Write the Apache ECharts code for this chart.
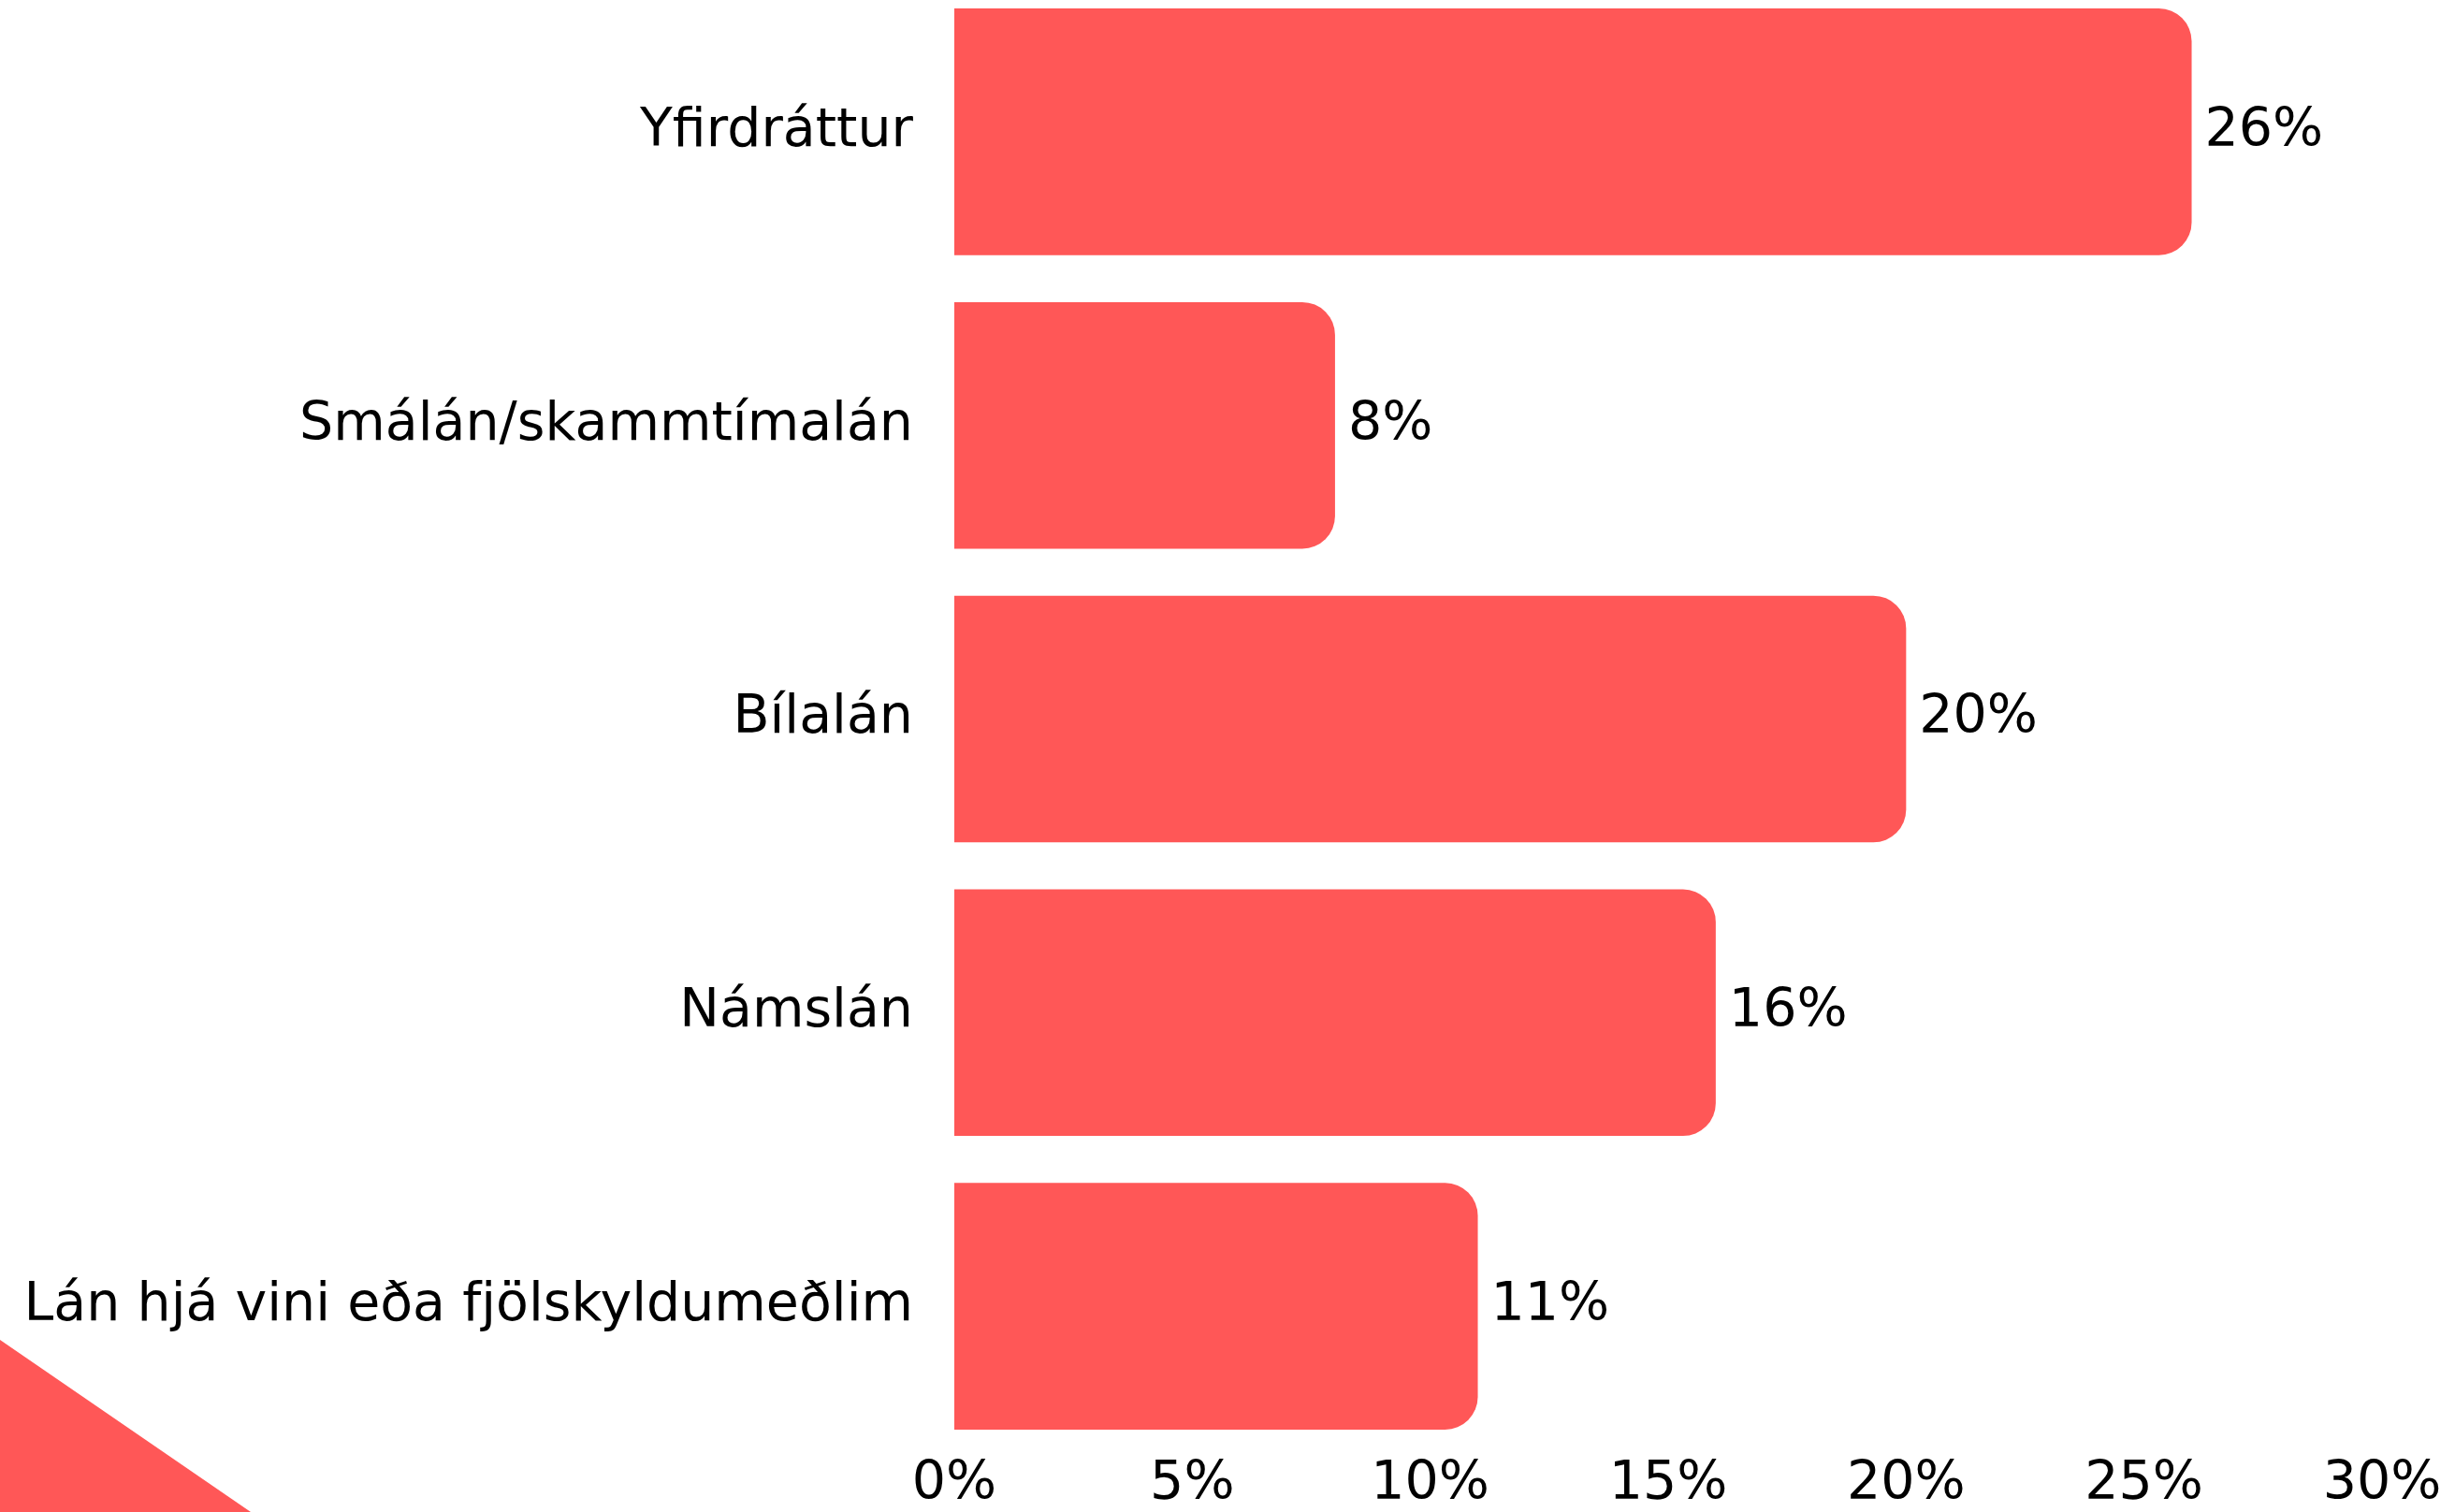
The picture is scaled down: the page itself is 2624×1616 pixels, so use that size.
<!DOCTYPE html>
<html>
<head>
<meta charset="utf-8">
<script src="https://cdn.jsdelivr.net/npm/echarts@6/dist/echarts.min.js"></script>
<style>
html,body{margin:0;padding:0;background:#fff;overflow:hidden;}
#chart{position:absolute;left:0;top:-16px;width:2624px;height:1632px;}
</style>
</head>
<body>
<div id="chart"></div>
<script>
const categories = ['Yfirdráttur', 'Smálán/skammtímalán', 'Bílalán', 'Námslán', 'Lán hjá vini eða fjölskyldumeðlim'];
const values = [26, 8, 20, 16, 11];
const axisTicks = [0, 5, 10, 15, 20, 25, 30];

const chart = echarts.init(document.getElementById('chart'), null, {renderer: 'canvas'});
const font = '"DejaVu Sans", "Open Sans", sans-serif';
chart.setOption({
  backgroundColor: '#ffffff',
  animation: false,
  grid: {left: 1020, right: 78, top: 0, height: 1575, containLabel: false},
  xAxis: {
    type: 'value', min: axisTicks[0], max: axisTicks[axisTicks.length - 1], interval: 5,
    axisLine: {show: false}, axisTick: {show: false}, splitLine: {show: false},
    axisLabel: {formatter: '{value}%', color: '#000', fontFamily: font, fontSize: 57, margin: 6}
  },
  yAxis: {
    type: 'category', data: categories, inverse: true,
    axisLine: {show: false}, axisTick: {show: false}, splitLine: {show: false},
    axisLabel: {color: '#000', fontFamily: font, fontSize: 57, margin: 44}
  },
  series: [{
    type: 'bar', data: values, barCategoryGap: '16%',
    itemStyle: {color: '#FF5757', borderRadius: [0, 35, 35, 0]},
    label: {show: true, position: 'right', distance: 14, formatter: '{c}%', color: '#000', fontFamily: font, fontSize: 57}
  }],
  graphic: [{
    type: 'polygon', z: -1,
    shape: {points: [[0, 1448], [268, 1632], [0, 1632]]},
    style: {fill: '#FF5757'}
  }]
});
</script>
</body>
</html>
